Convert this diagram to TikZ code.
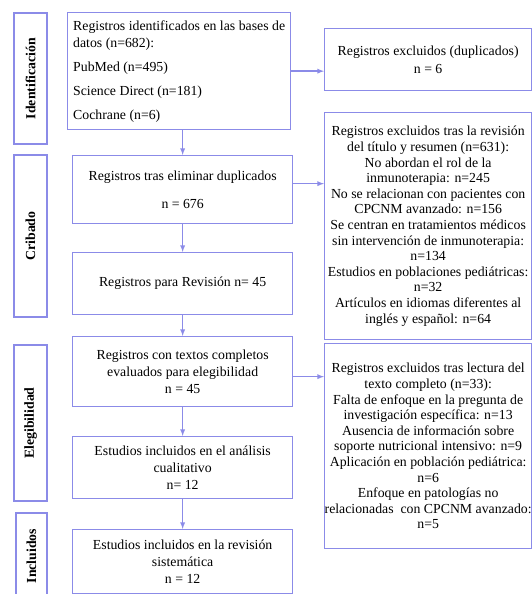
\documentclass[tikz,border=0pt]{standalone}
\usepackage{fontspec}
\setmainfont{Liberation Serif}
\definecolor{edge}{RGB}{139,139,232}

\begin{document}
\begin{tikzpicture}[x=1pt,y=-1pt,
    box/.style={draw=edge,line width=1.3pt,anchor=north west,inner sep=0pt,align=center,font=\fontsize{13.8}{17}\selectfont},
    excl/.style={box,font=\fontsize{13.8}{15.6}\selectfont},
    phase/.style={draw=edge,line width=1.3pt,rotate=90,inner sep=0pt,font=\bfseries\fontsize{13.8}{16}\selectfont},
    arr/.style={draw=edge,line width=1.3pt,arrows={-latex}}]

    \useasboundingbox (0,0) rectangle (532,594);
    \clip (0,0) rectangle (532,594);

    % phases
    \node[phase,minimum width=131,minimum height=33] (p1) at (30.5,78.5) {Identificación};
    \node[phase,minimum width=162,minimum height=33] (p2) at (30.5,236) {Cribado};
    \node[phase,minimum width=156,minimum height=33] (p3) at (30.5,423) {Elegibilidad};
    \node[phase,minimum width=86,minimum height=31] (p4) at (31.5,556) {Incluidos};

    % main flow
    \node[box,align=left,minimum width=223,minimum height=117] (b1) at (67,12) {Registros identificados en las bases de\\datos (n=682):\\[7pt]PubMed (n=495)\\[7pt]Science Direct (n=181)\\[7pt]Cochrane (n=6)};
    \node[box,minimum width=220,minimum height=68] (b2) at (72,155) {Registros tras eliminar duplicados\\[11pt]n = 676};
    \node[box,minimum width=220,minimum height=62] (b3) at (72,252) {Registros para Revisión n= 45};
    \node[box,minimum width=220,minimum height=70] (b4) at (72,336) {Registros con textos completos\\evaluados para elegibilidad\\n = 45};
    \node[box,minimum width=220,minimum height=62] (b5) at (72,436) {Estudios incluidos en el análisis\\cualitativo\\n= 12};
    \node[box,minimum width=220,minimum height=64] (b6) at (72,529) {Estudios incluidos en la revisión\\sistemática\\n = 12};

    % exclusions
    \node[excl,minimum width=207,minimum height=62] (x1) at (324,28) {Registros excluidos (duplicados)\\[2pt]n = 6};
    \node[excl,minimum width=207,minimum height=227] (x2) at (324,112) {Registros excluidos tras la revisión\\del título y resumen (n=631):\\No abordan el rol de la\\inmunoterapia: n=245\\No se relacionan con pacientes con\\CPCNM avanzado: n=156\\Se centran en tratamientos médicos\\sin intervención de inmunoterapia:\\n=134\\Estudios en poblaciones pediátricas:\\n=32\\Artículos en idiomas diferentes al\\inglés y español: n=64};
    \node[excl,minimum width=207,minimum height=205] (x3) at (324,343) {Registros excluidos tras lectura del\\texto completo (n=33):\\Falta de enfoque en la pregunta de\\investigación específica: n=13\\Ausencia de información sobre\\soporte nutricional intensivo: n=9\\Aplicación en población pediátrica:\\n=6\\Enfoque en patologías no\\relacionadas\ \ con CPCNM avanzado:\\n=5};

    \draw[arr] (b1.south -| b2.north) -- (b2.north);
    \draw[arr] (b2.south) -- (b3.north);
    \draw[arr] (b3.south) -- (b4.north);
    \draw[arr] (b4.south) -- (b5.north);
    \draw[arr] (b5.south) -- (b6.north);

    \draw[arr] (b1.east) -- (b1.east -| x1.west);
    \draw[arr] ([yshift=6pt]b2.east) -- ([yshift=6pt]b2.east -| x2.west);
    \draw[arr] ([yshift=-5pt]b4.east) -- ([yshift=-5pt]b4.east -| x3.west);

\end{tikzpicture}
\end{document}
